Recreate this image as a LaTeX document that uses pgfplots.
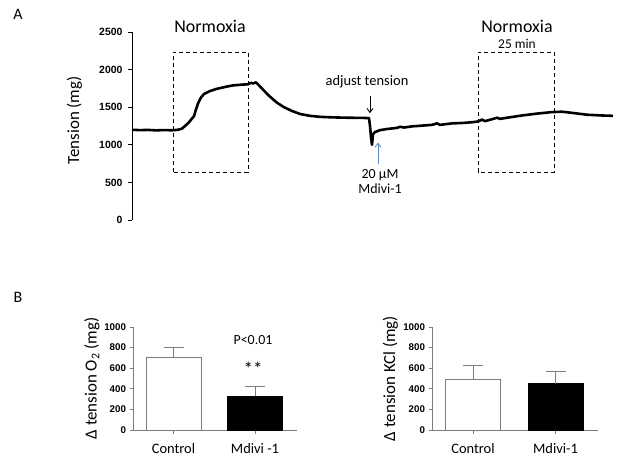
\documentclass[border=0pt]{standalone}
\usepackage{fontspec}
\setmainfont{Carlito}
\newfontfamily\arialf{Liberation Sans}
\usepackage{pgfplots}
\pgfplotsset{compat=1.18}
\usetikzlibrary{arrows.meta}

\definecolor{axgray}{RGB}{125,125,125}
\definecolor{arrowblue}{RGB}{95,135,195}

\pgfplotsset{
  tickfont/.style={font=\fontsize{9.8}{11}\arialf\bfseries},
  barpanel/.style={
    scale only axis, height=103bp,
    ymin=0, ymax=1000,
    axis x line=bottom, axis y line=left,
    axis line style={-, axgray, line width=1bp},
    ytick={0,200,...,1000},
    tick align=outside, major tick length=3.5bp,
    tick style={axgray, line width=0.8bp},
    yticklabel style={tickfont},
    xticklabel style={font=\fontsize{14.5}{16}\selectfont, yshift=-6bp},
    /pgf/number format/assume math mode=true,
    /pgf/number format/1000 sep={},
    ylabel style={at={(axis description cs:-0.25,0.5)}, anchor=center,
      font=\fontsize{17}{19}\selectfont},
    clip=false,
  },
  whitebar/.style={ybar, bar width=55bp, fill=white, draw=axgray, line width=1bp,
    error bars/.cd, y dir=plus, y explicit,
    error bar style={axgray, line width=1bp},
    error mark options={rotate=90, mark size=10bp, axgray, line width=1bp}},
  blackbar/.style={ybar, bar width=55bp, fill=black, draw=black, line width=1bp,
    error bars/.cd, y dir=plus, y explicit,
    error bar style={axgray, line width=1bp},
    error mark options={rotate=90, mark size=10bp, axgray, line width=1bp}},
}

\begin{document}
\begin{tikzpicture}
\path[use as bounding box] (0,0) rectangle (620bp,-461bp);

\node[font=\fontsize{16}{18}\selectfont] at (18bp,-14bp) {A};
\node[font=\fontsize{16}{18}\selectfont] at (18bp,-297bp) {B};

% panel A: tension trace
\begin{axis}[
  at={(132bp,-220bp)}, anchor=south west,
  scale only axis, width=481bp, height=188bp,
  xmin=0, xmax=481, ymin=0, ymax=2500,
  axis x line=none, axis y line=left,
  axis line style={-, black, line width=0.8bp},
  ytick={0,500,...,2500},
  tick align=outside, major tick length=4bp,
  tick style={black, line width=0.8bp},
  yticklabel style={font=\fontsize{10.5}{12}\arialf\bfseries, xshift=-2bp},
  /pgf/number format/assume math mode=true,
  /pgf/number format/1000 sep={},
  ylabel={Tension (mg)},
  ylabel style={at={(axis description cs:-0.12,0.53)}, anchor=center,
    font=\fontsize{17}{19}\selectfont},
  clip=false,
]
\addplot[black, line width=2.6bp, line join=round] coordinates {
  (0,1200) (8,1195) (16,1198) (24,1192) (32,1196) (40,1193) (46,1200)
  (50,1215) (53,1250) (57,1300) (60,1350) (62,1380) (64,1470) (66,1550)
  (69,1630) (72,1675) (78,1715) (85,1745) (95,1775) (101,1790) (110,1800)
  (116,1805) (119,1825) (121,1815) (124,1830) (127,1790) (132,1720)
  (138,1640) (145,1560) (152,1500) (160,1450) (168,1410) (178,1385)
  (188,1372) (200,1365) (215,1360) (230,1358) (237,1355)
  (238,1250) (239,1100) (240,1000) (241,1140) (243,1170) (248,1195)
  (255,1210) (265,1225) (268,1240) (272,1230) (280,1245) (290,1255)
  (300,1265) (305,1285) (308,1265) (320,1285) (330,1290) (340,1300)
  (346,1310) (350,1335) (353,1315) (360,1340) (365,1360) (368,1345)
  (375,1360) (390,1390) (405,1415) (420,1435) (430,1440) (440,1425)
  (455,1400) (470,1390) (481,1385)
};
% dashed windows
\draw[black, line width=1bp, dash pattern=on 4bp off 3bp]
  (axis cs:41,638) rectangle (axis cs:116,2234);
\draw[black, line width=1bp, dash pattern=on 4bp off 3bp]
  (axis cs:346,638) rectangle (axis cs:422,2234);
\node[font=\fontsize{18}{20}\selectfont] at (axis cs:78,2575) {Normoxia};
\node[font=\fontsize{18}{20}\selectfont] at (axis cs:385,2575) {Normoxia};
\node[font=\fontsize{13.5}{15}\selectfont] at (axis cs:385,2345) {25 min};
\node[font=\fontsize{14.5}{16}\selectfont] at (axis cs:235,1835) {adjust tension};
\draw[-{Straight Barb[length=4bp,width=6bp]}, black, line width=0.9bp]
  (axis cs:238,1650) -- (axis cs:238,1420);
\draw[-{Straight Barb[length=4bp,width=6bp]}, arrowblue, line width=0.9bp]
  (axis cs:246,750) -- (axis cs:246,1030);
\node[font=\fontsize{14}{16}\selectfont] at (axis cs:248,595) {20 μM};
\node[font=\fontsize{14}{16}\selectfont] at (axis cs:248,420) {Mdivi-1};
\end{axis}

% panel B left: O2
\begin{axis}[
  barpanel,
  at={(133bp,-430bp)}, anchor=south west, width=164bp,
  xmin=0, xmax=164,
  xtick={40.5,122}, xticklabels={Control, Mdivi -1},
  ylabel={Δ tension O\textsubscript{2} (mg)},
]
\addplot[whitebar] coordinates {(40.5,700) +- (0,100)};
\addplot[blackbar] coordinates {(122,330) +- (0,92)};
\node[font=\fontsize{14}{16}\selectfont] at (axis cs:120,874) {P<0.01};
\node[font=\fontsize{19}{21}\selectfont] at (axis cs:120,590) {**};
\end{axis}

% panel B right: KCl
\begin{axis}[
  barpanel,
  at={(432bp,-430bp)}, anchor=south west, width=166bp,
  xmin=0, xmax=166,
  xtick={41,123.5}, xticklabels={Control, Mdivi-1},
  ylabel={Δ tension KCl (mg)},
]
\addplot[whitebar] coordinates {(41,487) +- (0,143)};
\addplot[blackbar] coordinates {(123.5,447) +- (0,120)};
\end{axis}
\end{tikzpicture}
\end{document}
